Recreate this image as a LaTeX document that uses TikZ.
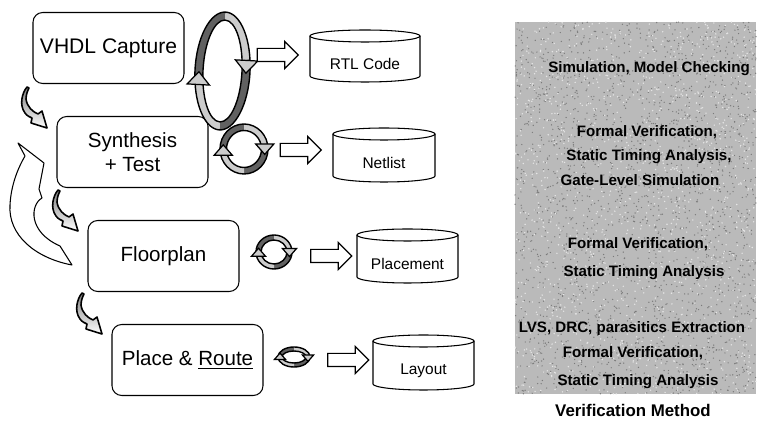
\documentclass[tikz,border=0pt]{standalone}
\usepackage{fontspec}
\setmainfont{Liberation Sans}
\usetikzlibrary{shapes.arrows}

\tikzset{
	stage/.style={draw, line width=0.6pt, rounded corners=5.5pt, minimum width=3.02cm, minimum height=1.42cm, align=center, font=\fontsize{11.7}{13.6}\selectfont},
	drumline/.style={draw, line width=0.6pt},
	drumtext/.style={font=\fontsize{8.8}{10}\selectfont},
	blockarrow/.style={single arrow, draw, line width=0.7pt, fill=white, inner xsep=0pt, inner ysep=0.12cm, single arrow head extend=0.14cm, minimum height=0.82cm},
	ringdark/.style={fill=black!62},
	ringlight/.style={fill=black!20},
	curl/.style={draw, line width=0.9pt, line join=round, top color=black!50, bottom color=white},
	backarrow/.style={draw, line width=0.6pt, fill=white, line join=round},
	method/.style={font=\bfseries\fontsize{8.6}{10}\selectfont, text height=1.5ex, text depth=0.3ex, inner sep=0pt},
}

% ring with two arrow heads: cx, cy, rx, ry, band, tilt
\newcommand{\ringarrow}[6]{%
	\begin{scope}[shift={(#1,#2)}, rotate=#6]
		\pgfmathsetmacro{\ix}{#3-#5}
		\pgfmathsetmacro{\iy}{#4-#5}
		\pgfmathsetmacro{\mx}{#3-#5/2}
		\pgfmathsetmacro{\hw}{1.4*#5}
		\pgfmathsetmacro{\hh}{1.6*#5}
		\pgfmathsetmacro{\ly}{0.25*#4}
		\pgfmathsetmacro{\ry}{-0.2*#4}
		\fill[ringdark] (166:{#3} and {#4}) arc[start angle=166, end angle=270, x radius=#3, y radius=#4] -- (270:{\ix} and {\iy}) arc[start angle=270, end angle=166, x radius=\ix, y radius=\iy] -- cycle;
		\fill[ringlight] (270:{#3} and {#4}) arc[start angle=270, end angle=347, x radius=#3, y radius=#4] -- (347:{\ix} and {\iy}) arc[start angle=347, end angle=270, x radius=\ix, y radius=\iy] -- cycle;
		\fill[ringdark] (-13:{#3} and {#4}) arc[start angle=-13, end angle=90, x radius=#3, y radius=#4] -- (90:{\ix} and {\iy}) arc[start angle=90, end angle=-13, x radius=\ix, y radius=\iy] -- cycle;
		\fill[ringlight] (90:{#3} and {#4}) arc[start angle=90, end angle=166, x radius=#3, y radius=#4] -- (166:{\ix} and {\iy}) arc[start angle=166, end angle=90, x radius=\ix, y radius=\iy] -- cycle;
		\draw[line width=0.8pt] (0,0) ellipse [x radius=#3, y radius=#4];
		\draw[line width=0.8pt] (0,0) ellipse [x radius=\ix, y radius=\iy];
		\draw[ringlight, line width=0.7pt] ({-\mx-\hw},\ly) -- ({-\mx+\hw},\ly) -- ({-\mx},{\ly-\hh}) -- cycle;
		\draw[ringlight, line width=0.7pt] ({\mx-\hw},\ry) -- ({\mx+\hw},\ry) -- ({\mx},{\ry+\hh}) -- cycle;
	\end{scope}}

% database drum: name, x1, y1, x2, y2, text
\newcommand{\drum}[6]{%
	\pgfmathsetmacro{\dcx}{(#2+#4)/2}
	\pgfmathsetmacro{\drx}{(#4-#2)/2}
	\draw[drumline] (\dcx,#3+6) ellipse [x radius=\drx, y radius=6];
	\draw[drumline] (#2,#3+6) -- (#2,#5-6) arc[start angle=180, end angle=0, x radius=\drx, y radius=6] -- (#4,#3+6);
	\node[drumtext] (#1) at (\dcx,{(#3+#5)/2+8}) {#6};}

% small curled arrow between two stages
\newcommand{\curlarrow}[2]{%
	\begin{scope}[shift={(#1,#2)}]
		\draw[curl] (0,0) .. controls (-5,6) and (-8,18) .. (-2,26) .. controls (0,29) and (3,30) .. (5,31) -- (4,36) -- (20,41) -- (15,24) -- (11,27) .. controls (6,25) and (0,20) .. (-1,12) .. controls (-1,7) and (1,3) .. (2,1) -- cycle;
	\end{scope}}

\begin{document}
\begin{tikzpicture}[x=0.02cm, y=-0.02cm]
	\useasboundingbox (0,0) rectangle (758,425);

	%%%%% design flow %%%%%
	\node[stage, font=\fontsize{12}{14}\selectfont] (vhdl) at (108.5,48) {VHDL Capture};
	\node[stage] (synth) at (132.5,152) {Synthesis\\+ Test};
	\node[stage] (floor) at (163.5,256) {Floorplan};
	\node[stage] (place) at (187.5,360) {Place \& \underline{Route}};

	\curlarrow{27}{87}
	\curlarrow{58}{190}
	\curlarrow{82}{293}

	\draw[backarrow] (18,143) -- (44,163) -- (39,189) -- (42,198) .. controls (30,205) and (28,232) .. (60,246) -- (72,265) .. controls (35,258) and (8,235) .. (10,205) .. controls (11,185) and (18,168) .. (25,156) -- cycle;

	%%%%% iterations %%%%%
	\ringarrow{222.5}{71}{27.5}{59}{8}{-3}
	\ringarrow{244}{149}{24}{25}{6.5}{0}
	\ringarrow{274}{252}{18}{17}{5}{0}
	\ringarrow{294}{357}{16}{10}{4}{0}

	\node[blockarrow] (toRTL) at (274.5,55) {};
	\node[blockarrow] (toNetlist) at (297.5,150) {};
	\node[blockarrow] (toPlacement) at (328,256) {};
	\node[blockarrow] (toLayout) at (345,360) {};

	%%%%% results %%%%%
	\drum{rtl}{310}{30}{420}{82}{RTL Code}
	\drum{netlist}{333}{128}{435}{182}{Netlist}
	\drum{placement}{357}{229}{458}{283}{Placement}
	\drum{layout}{373}{335}{474}{390}{Layout}

	%%%%% verification %%%%%
	\fill[black!27] (515,22) rectangle (756,394);
	\pgfmathsetseed{17}
	\foreach \k in {1,...,2200} {
		\pgfmathsetmacro{\px}{515+241*rnd}
		\pgfmathsetmacro{\py}{22+372*rnd}
		\fill[black!52] (\px,\py) circle[radius=0.7];
	}
	\foreach \k in {1,...,1400} {
		\pgfmathsetmacro{\px}{515+241*rnd}
		\pgfmathsetmacro{\py}{22+372*rnd}
		\fill[white!90!black] (\px,\py) circle[radius=0.8];
	}

	\node[method] (m1) at (649,67) {Simulation, Model Checking};
	\node[method] (m2) at (647,131) {Formal Verification,};
	\node[method] (m3) at (649,155) {Static Timing Analysis,};
	\node[method] (m4) at (640,180) {Gate-Level Simulation};
	\node[method] (m5) at (638,243) {Formal Verification,};
	\node[method] (m6) at (644,271) {Static Timing Analysis};
	\node[method] (m7) at (632,327) {LVS, DRC, parasitics Extraction};
	\node[method] (m8) at (633,352) {Formal Verification,};
	\node[method] (m9) at (638,380) {Static Timing Analysis};
	\node[font=\bfseries\fontsize{9.6}{11}\selectfont] (title) at (633,410) {Verification Method};
\end{tikzpicture}
\end{document}
